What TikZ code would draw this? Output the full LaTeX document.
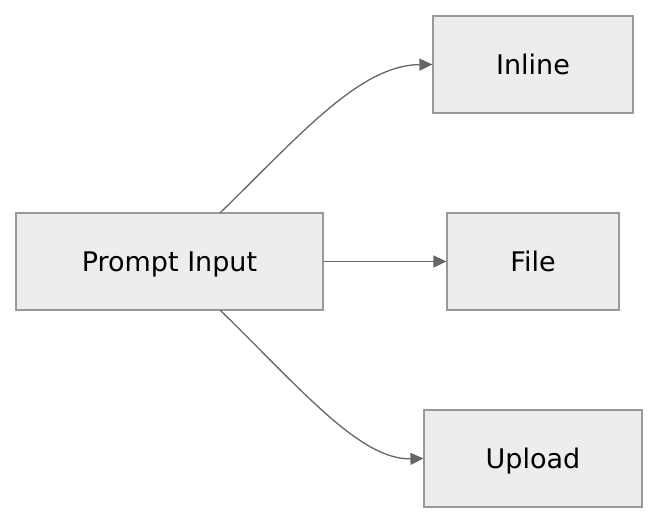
\documentclass[tikz,border=0pt]{standalone}
\usepackage{fontspec}
\setmainfont{DejaVu Sans}
\usetikzlibrary{arrows.meta}
\begin{document}
\begin{tikzpicture}[x=1pt,y=-1pt,
 box/.style={draw=black!40,fill=black!7,line width=1.2pt,inner sep=0pt,font=\fontsize{27}{32}\selectfont,text height=20pt,text depth=0pt},
 conn/.style={draw=black!60,line width=1.3pt,-{Triangle[length=13pt,width=12pt]}}]
\useasboundingbox (0,0) rectangle (660,525);
\node[box,minimum width=307,minimum height=97] (p) at (169.5,261.5) {Prompt Input};
\node[box,minimum width=200,minimum height=97] (i) at (533,64.5) {Inline};
\node[box,minimum width=172,minimum height=97] (f) at (533,261.5) {File};
\node[box,minimum width=218,minimum height=97] (u) at (533,458.5) {Upload};
\draw[conn] (220,213) .. controls (300,135) and (360,65) .. (i.west);
\draw[conn] (p.east) -- (f.west);
\draw[conn] (220,310) .. controls (300,388) and (360,460) .. (u.west);
\end{tikzpicture}
\end{document}
